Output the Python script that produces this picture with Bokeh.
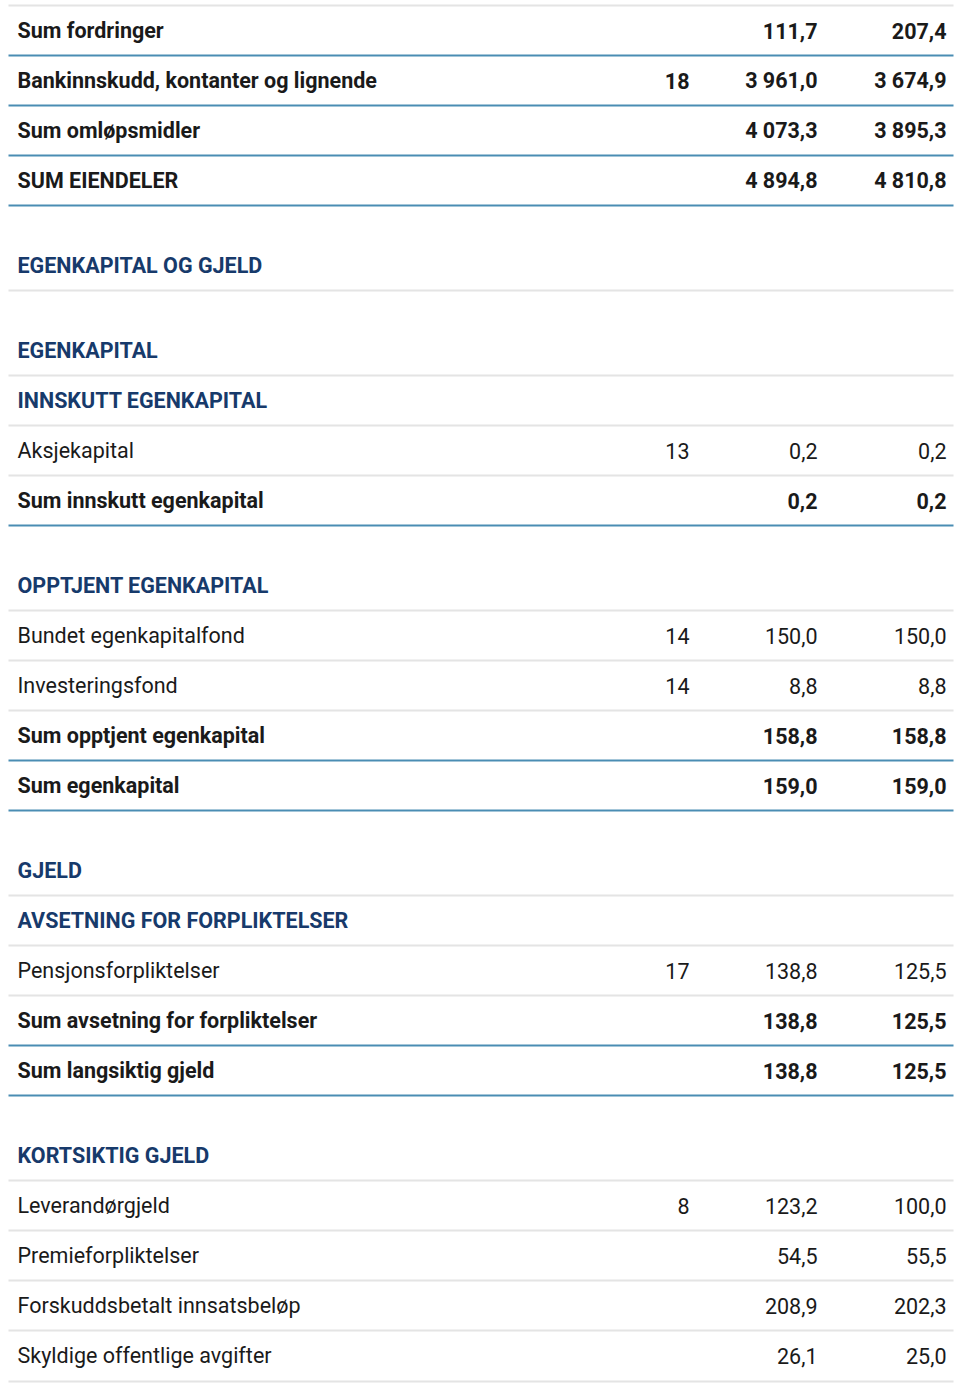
from bokeh.plotting import figure
from bokeh.models import ColumnDataSource, Range1d
from bokeh.core.properties import value
from bokeh.embed import file_html
from bokeh.resources import INLINE

labels = [
    "Sum fordringer", "Bankinnskudd, kontanter og lignende", "Sum omløpsmidler", "SUM EIENDELER",
    "EGENKAPITAL OG GJELD", "EGENKAPITAL", "INNSKUTT EGENKAPITAL", "Aksjekapital",
    "Sum innskutt egenkapital", "OPPTJENT EGENKAPITAL", "Bundet egenkapitalfond", "Investeringsfond",
    "Sum opptjent egenkapital", "Sum egenkapital", "GJELD", "AVSETNING FOR FORPLIKTELSER",
    "Pensjonsforpliktelser", "Sum avsetning for forpliktelser", "Sum langsiktig gjeld",
    "KORTSIKTIG GJELD", "Leverandørgjeld", "Premieforpliktelser", "Forskuddsbetalt innsatsbeløp",
    "Skyldige offentlige avgifter",
]
notes = ["", "18", "", "", "", "", "", "13", "", "", "14", "14", "", "", "", "", "17", "", "", "", "8", "", "", ""]
values_2020 = ["111,7", "3 961,0", "4 073,3", "4 894,8", "", "", "", "0,2", "0,2", "", "150,0", "8,8",
               "158,8", "159,0", "", "", "138,8", "138,8", "138,8", "", "123,2", "54,5", "208,9", "26,1"]
values_2019 = ["207,4", "3 674,9", "3 895,3", "4 810,8", "", "", "", "0,2", "0,2", "", "150,0", "8,8",
               "158,8", "159,0", "", "", "125,5", "125,5", "125,5", "", "100,0", "55,5", "202,3", "25,0"]
# row kinds: s = sum (bold), h = heading, n = normal
kinds = ["s", "s", "s", "s", "h", "h", "h", "n", "s", "h", "n", "n", "s", "s", "h", "h",
         "n", "s", "s", "h", "n", "n", "n", "n"]
new_section = [False, False, False, False, True, True, False, False, False, True, False, False,
               False, False, True, False, False, False, False, True, False, False, False, False]

BLUE = "#4a8db3"
GRAY = "#e4e4e4"
NAVY = "#173a6b"
TEXT = "#1a1a1a"

# layout
ys, line_y, line_c = [], [5], [GRAY]
cur = 5
for k, gap in zip(kinds, new_section):
    ty = cur + 25 + (35 if gap else 0)
    ys.append(ty)
    cur = ty + 25
    line_y.append(cur)
    line_c.append(BLUE if k == "s" else GRAY)
line_y[-1] = 1381

p = figure(width=960, height=1384, output_backend="svg", toolbar_location=None,
           x_range=Range1d(0, 960), y_range=Range1d(1384, 0),
           min_border=0, outline_line_color=None)
p.axis.visible = False
p.grid.visible = False

p.segment(x0=8, x1=953, y0="y", y1="y", line_color="c", line_width=2,
          source=ColumnDataSource(dict(y=line_y, c=line_c)))

FONT = value("Roboto")
for kind, style, color in [("s", "bold", TEXT), ("h", "bold", NAVY), ("n", "normal", TEXT)]:
    idx = [i for i, k in enumerate(kinds) if k == kind]
    src = ColumnDataSource(dict(
        y=[ys[i] for i in idx],
        lab=[labels[i] for i in idx],
        note=[notes[i] for i in idx],
        v20=[values_2020[i] for i in idx],
        v19=[values_2019[i] for i in idx],
    ))
    common = dict(y="y", source=src, text_font=FONT, text_font_size="21.5px",
                  text_font_style=style, text_color=color, text_baseline="middle")
    p.text(x=17, text="lab", text_align="left", **common)
    if kind != "h":
        p.text(x=689, text="note", text_align="right", **common)
        p.text(x=817, text="v20", text_align="right", **common)
        p.text(x=946, text="v19", text_align="right", **common)

open("out.html", "w").write(file_html(p, INLINE))
